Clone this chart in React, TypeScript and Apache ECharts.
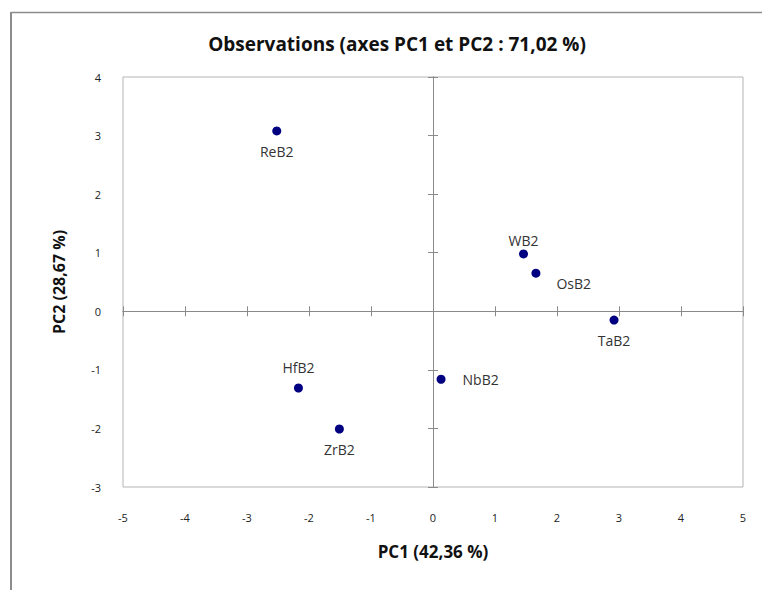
import React, { useEffect, useRef } from "react";
import * as echarts from "echarts";

const observations = ["ReB2", "WB2", "OsB2", "TaB2", "HfB2", "ZrB2", "NbB2"];
const pc1Values = [-2.52, 1.46, 1.66, 2.92, -2.17, -1.51, 0.13];
const pc2Values = [3.08, 0.98, 0.65, -0.15, -1.31, -2.01, -1.16];

const titleText = "Observations (axes PC1 et PC2 : 71,02 %)";
const xAxisTitle = "PC1 (42,36 %)";
const yAxisTitle = "PC2 (28,67 %)";

const labelPlacement: Record<string, any> = {
  ReB2: { position: "bottom", distance: 9 },
  WB2: { position: "top", distance: 2 },
  OsB2: { position: "right", distance: 16, offset: [0, 10] },
  TaB2: { position: "bottom", distance: 9 },
  HfB2: { position: "top", distance: 9 },
  ZrB2: { position: "bottom", distance: 9 },
  NbB2: { position: "right", distance: 17 },
};

const FONT = "'Open Sans', 'DejaVu Sans', sans-serif";
const AXIS_COLOR = "#8a8a8a";

export default function App() {
  const ref = useRef<HTMLDivElement>(null);
  useEffect(() => {
    document.body.style.margin = "0";
    if (!ref.current) return;
    const chart = echarts.init(ref.current, undefined, { renderer: "svg" });
    const zeroAxisCommon = {
      min: -5,
      max: 5,
      interval: 1,
      axisLabel: { show: false },
      splitLine: { show: false },
      axisLine: { show: true, onZero: true, lineStyle: { color: AXIS_COLOR, width: 1 } },
    };
    const zeroYCommon = {
      min: -3,
      max: 4,
      interval: 1,
      axisLabel: { show: false },
      splitLine: { show: false },
      axisLine: { show: true, onZero: true, lineStyle: { color: AXIS_COLOR, width: 1 } },
    };
    chart.setOption({
      animation: false,
      backgroundColor: "#ffffff",
      title: {
        text: titleText,
        left: 392,
        textAlign: "center",
        top: 29,
        textStyle: { fontFamily: FONT, fontSize: 19, fontWeight: "bold", color: "#111" },
      },
      grid: {
        left: 123,
        top: 77,
        right: 19,
        bottom: 103,
        show: true,
        borderColor: "#b4b4b4",
        borderWidth: 1,
        backgroundColor: "transparent",
      },
      xAxis: [
        {
          type: "value",
          position: "bottom",
          min: -5,
          max: 5,
          interval: 1,
          axisLine: { show: false, onZero: false },
          axisTick: { show: false },
          splitLine: { show: false },
          axisLabel: { margin: 25, fontFamily: FONT, fontSize: 11, color: "#222" },
          name: xAxisTitle,
          nameLocation: "middle",
          nameGap: 56,
          nameTextStyle: { fontFamily: FONT, fontSize: 17, fontWeight: "bold", color: "#111" },
        },
        { type: "value", position: "bottom", ...zeroAxisCommon, axisTick: { show: true, inside: true, length: 5, lineStyle: { color: AXIS_COLOR } } },
        { type: "value", position: "bottom", ...zeroAxisCommon, axisTick: { show: true, inside: false, length: 5, lineStyle: { color: AXIS_COLOR } } },
      ],
      yAxis: [
        {
          type: "value",
          position: "left",
          min: -3,
          max: 4,
          interval: 1,
          axisLine: { show: false, onZero: false },
          axisTick: { show: false },
          splitLine: { show: false },
          axisLabel: { margin: 22, fontFamily: FONT, fontSize: 11, color: "#222" },
          name: yAxisTitle,
          nameLocation: "middle",
          nameGap: 56,
          nameRotate: 90,
          nameTextStyle: { fontFamily: FONT, fontSize: 16, fontWeight: "bold", color: "#111" },
        },
        { type: "value", position: "left", ...zeroYCommon, axisTick: { show: true, inside: true, length: 5, lineStyle: { color: AXIS_COLOR } } },
        { type: "value", position: "left", ...zeroYCommon, axisTick: { show: true, inside: false, length: 5, lineStyle: { color: AXIS_COLOR } } },
      ],
      graphic: [
        {
          type: "line",
          shape: { x1: 11, y1: 12.5, x2: 762, y2: 12.5 },
          style: { stroke: "#8c8c8c", lineWidth: 1.5 },
        },
        {
          type: "line",
          shape: { x1: 11, y1: 12, x2: 11, y2: 590 },
          style: { stroke: "#8c8c8c", lineWidth: 2 },
        },
      ],
      series: [
        {
          type: "scatter",
          xAxisIndex: 0,
          yAxisIndex: 0,
          symbol: "circle",
          symbolSize: 9,
          itemStyle: { color: "#000080", opacity: 1 },
          label: {
            show: true,
            formatter: (p: any) => p.name,
            fontFamily: FONT,
            fontSize: 14,
            color: "#333",
          },
          data: observations.map((name, i) => ({
            name,
            value: [pc1Values[i], pc2Values[i]],
            label: labelPlacement[name],
          })),
        },
      ],
    });
    return () => chart.dispose();
  }, []);
  return <div ref={ref} style={{ width: 762, height: 590 }} />;
}
